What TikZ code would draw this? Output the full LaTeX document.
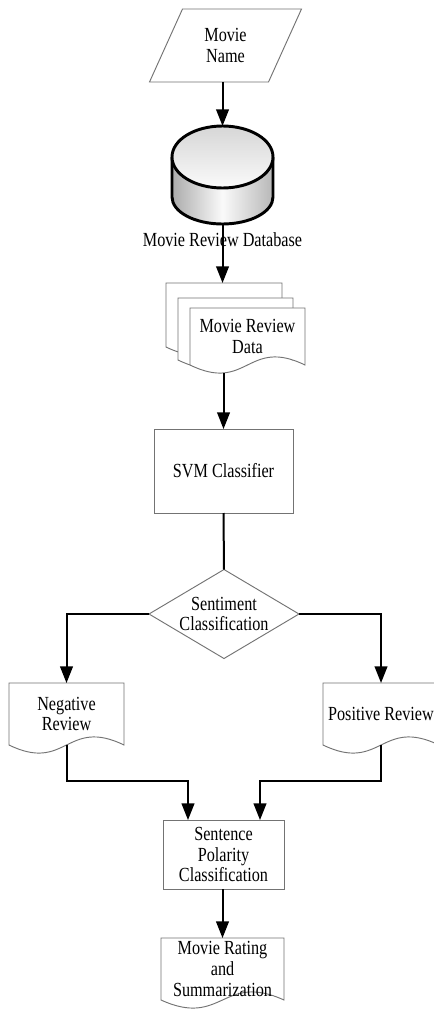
\documentclass[tikz,border=0pt]{standalone}
\usepackage{fontspec}
\setmainfont{Liberation Serif}[FakeStretch=0.81]
\usetikzlibrary{arrows.meta,calc,backgrounds}
\def\u{0.75pt}
\newcommand\docoutline[1]{%
  \draw[box] (#1.north west) -- (#1.north east) -- (#1.south east)
    .. controls ($(#1.south east)!0.5!(#1.south west)+(0,28)$) and ($(#1.south east)!0.5!(#1.south west)+(0,-28)$) .. (#1.south west) -- cycle;}
\tikzset{
  box/.style={draw=black!55, line width=0.7pt, fill=white},
  ghost/.style={inner sep=0pt, outer sep=0pt, align=center, font=\fontsize{15}{15.5}\selectfont},
  conn/.style={line width=1.5pt, black},
  arr/.style={conn, -{Triangle[length=12.5pt,width=9.5pt]}},
  cylline/.style={line width=2.2pt, black},
}
\begin{document}
\begin{tikzpicture}[x=0.75pt,y=0.75pt]
\useasboundingbox (0,0) rectangle (433,-1010);

% nodes
\node[ghost, minimum width=119*\u, minimum height=73*\u] (name) at (225.5,-45.5) {Movie\\Name};
\node[ghost, minimum width=101*\u, minimum height=98*\u] (db) at (222.5,-175) {};
\node[ghost] (dblabel) at (222.5,-240) {Movie Review Database};
\node[ghost, minimum width=116*\u, minimum height=64*\u] (back) at (224,-315) {};
\node[ghost, minimum width=115*\u, minimum height=62*\u] (mid) at (235.5,-329) {};
\node[ghost, minimum width=115*\u, minimum height=57*\u] (data) at (247.5,-336.5) {Movie Review\\Data};
\node[ghost, minimum width=139*\u, minimum height=84*\u] (svm) at (223.5,-471) {SVM Classifier};
\node[ghost, minimum width=150*\u, minimum height=89*\u] (sent) at (224,-614) {Sentiment\\Classification};
\node[ghost, minimum width=115*\u, minimum height=62*\u] (neg) at (66.5,-714) {Negative\\Review};
\node[ghost, minimum width=116*\u, minimum height=62*\u] (pos) at (381,-714) {Positive Review};
\node[ghost, minimum width=121*\u, minimum height=69*\u] (pol) at (223.5,-854.5) {Sentence\\Polarity\\Classification};
\node[ghost, minimum width=123*\u, minimum height=62*\u] (rating) at (222.5,-969) {Movie Rating\\and\\Summarization};

\begin{scope}[on background layer]
  \fill[white] (0,0) rectangle (433,-1010);
  % parallelogram
  \draw[box] ($(name.north west)+(16.5,0)$) -- ($(name.north east)+(16.5,0)$)
    -- ($(name.south east)+(-16.5,0)$) -- ($(name.south west)+(-16.5,0)$) -- cycle;
  % cylinder
  \path[left color=black!33, right color=black!28, middle color=black!2]
    (172,-157) -- (172,-197) arc[start angle=180, end angle=360, x radius=37.875pt, y radius=20.25pt] -- (273,-157) -- cycle;
  \draw[cylline] (172,-157) -- (172,-197) arc[start angle=180, end angle=360, x radius=37.875pt, y radius=20.25pt] -- (273,-157);
  \draw[cylline, top color=black!16, bottom color=black!2] (222.5,-157) ellipse [x radius=37.875pt, y radius=23.25pt];
  % documents
  \docoutline{back}
  \docoutline{mid}
  \docoutline{data}
  \draw[box] (svm.north west) rectangle (svm.south east);
  \draw[box] (sent.north) -- (sent.east) -- (sent.south) -- (sent.west) -- cycle;
  \docoutline{neg}
  \docoutline{pos}
  \draw[box] (pol.north west) rectangle (pol.south east);
  \docoutline{rating}
\end{scope}

% connectors
\draw[arr] (db.north |- name.south) -- (db.north);
\draw[arr] (db.south) -- (db.south |- back.north);
\draw[arr] ($(svm.north |- data.south)+(0,-8)$) -- (svm.north);
\draw[conn] (svm.south) -- (sent.north);
\draw[arr] (sent.west) -| (neg.north);
\draw[arr] (sent.east) -| (pos.north);
\draw[arr] (neg.south) |- ($(pol.north west)+(25,39)$) -- ($(pol.north west)+(25,0)$);
\draw[arr] (pos.south) |- ($(pol.north east)+(-24,39)$) -- ($(pol.north east)+(-24,0)$);
\draw[arr] (rating.north |- pol.south) -- (rating.north);
\end{tikzpicture}
\end{document}
